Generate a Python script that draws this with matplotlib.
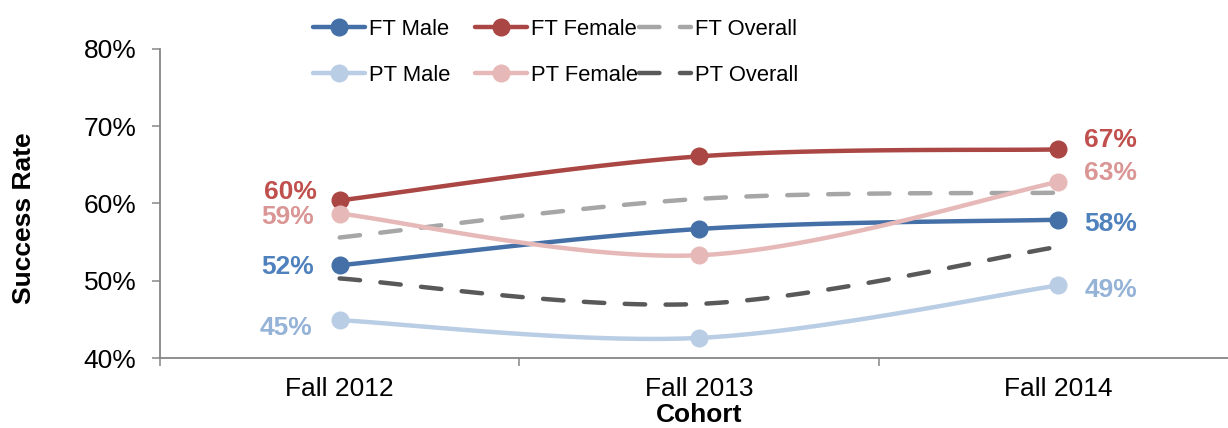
import numpy as np
import matplotlib
matplotlib.use("Agg")
import matplotlib.pyplot as plt
from matplotlib.lines import Line2D
from matplotlib.ticker import FixedLocator, PercentFormatter

plt.rcParams["font.family"] = ["Liberation Sans", "DejaVu Sans"]

cohorts = ["Fall 2012", "Fall 2013", "Fall 2014"]
ft_male = [52.0, 56.7, 57.9]
ft_female = [60.4, 66.1, 67.0]
ft_overall = [55.6, 60.6, 61.4]
pt_male = [44.9, 42.6, 49.4]
pt_female = [58.7, 53.3, 62.8]
pt_overall = [50.3, 47.0, 54.4]

W, H, DPI = 1228, 428, 100
FS = 19
fig = plt.figure(figsize=(W / DPI, H / DPI), dpi=DPI)
ax_left, ax_right, ax_top, ax_bottom = 160, 1238, 49, 358
ax = fig.add_axes([ax_left / W, 1 - ax_bottom / H,
                   (ax_right - ax_left) / W, (ax_bottom - ax_top) / H])
ax.set_xlim(-0.5, 2.5)
ax.set_ylim(40, 80)

# pixel scale factors used for smoothing in screen space
sx = (ax_right - ax_left) / 3.0
sy = (ax_bottom - ax_top) / 40.0


def smooth(xs, ys, n=60):
    """Bezier smoothing through every point (spreadsheet-style)."""
    P = np.column_stack([np.asarray(xs, float) * sx, np.asarray(ys, float) * sy])
    m = len(P)
    out = []
    for i in range(m - 1):
        p0 = P[max(i - 1, 0)]
        p1, p2 = P[i], P[i + 1]
        p3 = P[min(i + 2, m - 1)]
        c1 = p1 + (p2 - p0) / 6.0
        c2 = p2 - (p3 - p1) / 6.0
        t = np.linspace(0, 1, n)[:, None]
        seg = ((1 - t) ** 3) * p1 + 3 * ((1 - t) ** 2) * t * c1 \
            + 3 * (1 - t) * t ** 2 * c2 + t ** 3 * p2
        out.append(seg if i == 0 else seg[1:])
    curve = np.vstack(out)
    return curve[:, 0] / sx, curve[:, 1] / sy


x = np.arange(len(cohorts))
LW = 3.2
MS = 12
DASH = (4.6, 4.6)

series = [
    # name, values, line colour, marker, dashed, label colour
    ("FT Male", ft_male, "#4470A7", True, False, "#4F81BD"),
    ("FT Female", ft_female, "#AA4643", True, False, "#C0504D"),
    ("FT Overall", ft_overall, "#A6A6A6", False, True, None),
    ("PT Male", pt_male, "#B9CDE5", True, False, "#95B3D7"),
    ("PT Female", pt_female, "#E6B9B8", True, False, "#D99694"),
    ("PT Overall", pt_overall, "#595959", False, True, None),
]

handles = {}
for name, vals, col, mark, dashed, lab_col in series:
    cx, cy = smooth(x, vals)
    kw = dict(color=col, lw=LW, solid_capstyle="round", dash_capstyle="round", zorder=3)
    if dashed:
        ax.plot(cx, cy, dashes=DASH, **kw)
    else:
        ax.plot(cx, cy, **kw)
    if mark:
        ax.plot(x, vals, "o", ms=MS, color=col, mec=col, zorder=4)
    handles[name] = Line2D([], [], color=col, lw=LW,
                           solid_capstyle="round", dash_capstyle="round",
                           marker="o" if mark else None, ms=MS, mec=col,
                           **({"dashes": DASH} if dashed else {}))

# value labels at the first and last cohort
label_offsets = {
    "FT Female": ((-16.5, 8), (18.7, 8.3)),
    "PT Female": ((-18.7, -0.8), (18.7, 8)),
    "FT Male": ((-18.7, 0.7), (18.7, -1.4)),
    "PT Male": ((-20, -4), (18.7, -1.4)),
}
for name, vals, col, mark, dashed, lab_col in series:
    if name not in label_offsets:
        continue
    (dx0, dy0), (dx1, dy1) = label_offsets[name]
    ax.annotate(f"{vals[0]:.0f}%", (x[0], vals[0]), xytext=(dx0, dy0),
                textcoords="offset points", ha="right", va="center_baseline",
                fontsize=FS, fontweight="bold", color=lab_col, zorder=5)
    ax.annotate(f"{vals[-1]:.0f}%", (x[-1], vals[-1]), xytext=(dx1, dy1),
                textcoords="offset points", ha="left", va="center_baseline",
                fontsize=FS, fontweight="bold", color=lab_col, zorder=5)

# axes styling
for side in ("top", "right"):
    ax.spines[side].set_visible(False)
for side in ("left", "bottom"):
    ax.spines[side].set_color("#868686")
    ax.spines[side].set_linewidth(1.3)
ax.set_yticks([40, 50, 60, 70, 80])
ax.yaxis.set_major_formatter(PercentFormatter(decimals=0))
ax.tick_params(axis="y", length=6, width=1.1, color="#868686", labelsize=FS, pad=11)
ax.set_xticks(x)
ax.set_xticklabels(cohorts)
ax.tick_params(axis="x", which="major", length=0, labelsize=FS, pad=14)
ax.xaxis.set_minor_locator(FixedLocator([-0.5, 0.5, 1.5, 2.5]))
ax.tick_params(axis="x", which="minor", length=6, width=1.1, color="#868686")

fig.text(24 / W, 1 - 218 / H, "Success Rate", rotation=90, ha="center", va="center",
         fontsize=FS, fontweight="bold")
fig.text(699 / W, 1 - 427 / H, "Cohort", ha="center", va="bottom",
         fontsize=FS, fontweight="bold")

# legend: three columns of two entries each
LFS = 15.8
columns = [(313, ["FT Male", "PT Male"]),
           (475, ["FT Female", "PT Female"]),
           (639, ["FT Overall", "PT Overall"])]
for px, names in columns:
    fig.legend([handles[n] for n in names], names, loc="upper left",
               bbox_to_anchor=(px / W, 1 - 19 / H), frameon=False,
               fontsize=LFS, handlelength=2.35, handletextpad=0.22,
               borderpad=0, borderaxespad=0, labelspacing=1.12)

fig.savefig("out.png", dpi=DPI)
